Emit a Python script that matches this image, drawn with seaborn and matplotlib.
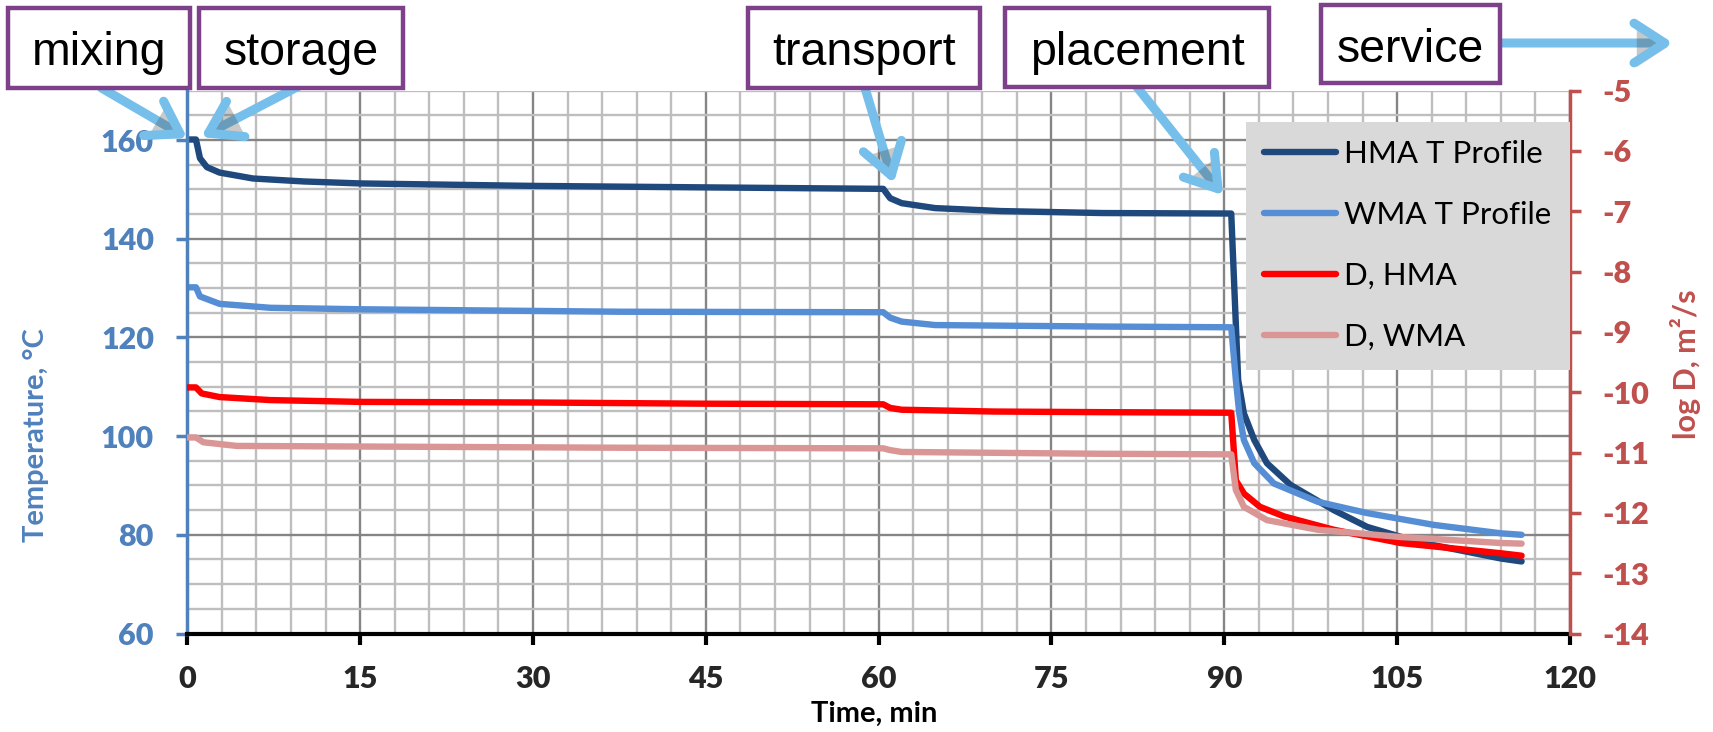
import numpy as np
import pandas as pd
import seaborn as sns
import matplotlib.pyplot as plt
import matplotlib.patheffects as pe
from matplotlib.patches import Rectangle

# temperature profiles, deg C
t_hma = [0, 0.75, 1.1, 1.7, 2.8, 5.7, 10.1, 15, 30, 45, 60.4, 61.0, 62, 64.9, 70.6, 79.4,
         90.6, 91.2, 91.7, 92.6, 93.7, 95.75, 99.5, 102.4, 105.3, 108.2, 114, 115.8]
temp_hma = [160.1, 160.1, 156.3, 154.5, 153.4, 152.2, 151.6, 151.2, 150.7, 150.4, 150.1, 148.2,
            147.2, 146.2, 145.6, 145.2, 145.1, 111.4, 104.6, 99.2, 94.5, 90.1, 85.0, 81.6,
            79.6, 77.9, 75.2, 74.6]

t_wma = [0, 0.75, 1.1, 2.8, 7.2, 15, 37.6, 60.4, 61.0, 62, 64.9, 79.4, 90.6, 91.0, 91.3,
         91.7, 92.6, 94.3, 98.1, 102.4, 108.2, 114, 115.8]
temp_wma = [130.15, 130.15, 128.3, 126.8, 126.0, 125.7, 125.2, 125.1, 124.0, 123.2, 122.5,
            122.2, 122.05, 111.4, 104.6, 99.2, 94.5, 90.4, 86.7, 84.4, 82.0, 80.3, 80.0]

# diffusion coefficients, log D (m2/s)
t_d_hma = [0, 0.75, 1.25, 2.8, 7.2, 15, 30, 45, 60.4, 61.0, 62, 70, 79, 90.6, 91.0, 91.7,
           93.1, 95.2, 99.5, 105.3, 114, 115.8]
logd_hma = [-9.92, -9.92, -10.02, -10.08, -10.13, -10.16, -10.17, -10.19, -10.20, -10.26,
            -10.29, -10.32, -10.33, -10.34, -11.46, -11.68, -11.90, -12.06, -12.28, -12.50,
            -12.67, -12.71]

t_d_wma = [0, 0.75, 1.4, 4.3, 15, 37.6, 60.4, 61.0, 62, 79, 90.6, 91.0, 91.7, 93.7, 98.1,
           105.3, 114, 115.8]
logd_wma = [-10.75, -10.75, -10.83, -10.89, -10.90, -10.92, -10.93, -10.96, -10.99, -11.02,
            -11.03, -11.62, -11.90, -12.12, -12.28, -12.40, -12.50, -12.51]

stages = ['mixing', 'storage', 'transport', 'placement', 'service']

sns.set_theme(style='white')
plt.rcParams['font.family'] = ['Lato', 'DejaVu Sans']
plt.rcParams['axes.unicode_minus'] = False

W, H = 1713, 732
fig = plt.figure(figsize=(W / 100, H / 100), dpi=100)
ax = fig.add_axes([187.3 / W, 98.5 / H, 1382.7 / W, 542.85 / H])
ax2 = ax.twinx()

blue_ax = '#4F81BD'
red_ax = '#C0504D'
lw = 4.6

sns.lineplot(x=t_hma, y=temp_hma, ax=ax, color='#1F497D', lw=lw, sort=False,
             estimator=None, label='HMA T Profile', legend=False)
sns.lineplot(x=t_wma, y=temp_wma, ax=ax, color='#558ED5', lw=lw, sort=False,
             estimator=None, label='WMA T Profile', legend=False)
sns.lineplot(x=t_d_hma, y=logd_hma, ax=ax2, color='#FF0000', lw=lw, sort=False,
             estimator=None, label='D, HMA', legend=False)
sns.lineplot(x=t_d_wma, y=logd_wma, ax=ax2, color='#D99694', lw=lw, sort=False,
             estimator=None, label='D, WMA', legend=False)
for a in (ax, ax2):
    for ln in a.lines:
        ln.set_solid_capstyle('round')
        ln.set_solid_joinstyle('round')

ax.set_xlim(0, 120)
ax.set_ylim(60, 170)
ax2.set_ylim(-14, -5)

ax.set_xticks(range(0, 121, 15))
ax.set_xticks(np.arange(0, 121, 3), minor=True)
ax.set_yticks(range(60, 161, 20))
ax.set_yticks(np.arange(60, 171, 5), minor=True)
ax2.set_yticks(range(-14, -4))

ax.set_axisbelow(True)
ax.grid(which='major', color='#858585', lw=1.7)
ax.grid(which='minor', color='#BEBEBE', lw=1.7)

for a in (ax, ax2):
    for s in a.spines.values():
        s.set_visible(False)
ax.spines['left'].set_visible(True)
ax.spines['left'].set_color(blue_ax)
ax.spines['left'].set_linewidth(2.5)
ax.spines['bottom'].set_visible(True)
ax.spines['bottom'].set_color('black')
ax.spines['bottom'].set_linewidth(3)
ax2.spines['right'].set_visible(True)
ax2.spines['right'].set_color(red_ax)
ax2.spines['right'].set_linewidth(2.5)

ax.tick_params(which='minor', length=0)
ax.tick_params(axis='x', which='major', direction='out', length=8, width=3, color='black',
               labelsize=22, pad=15, bottom=True)
ax.tick_params(axis='y', which='major', direction='out', length=8, width=2.5, color=blue_ax,
               labelcolor=blue_ax, labelsize=22, pad=16, left=True)
ax2.tick_params(axis='y', direction='out', length=8, width=2.5, color=red_ax,
                labelcolor=red_ax, labelsize=22, pad=15, right=True)
for lab in ax.get_xticklabels() + ax.get_yticklabels() + ax2.get_yticklabels():
    lab.set_fontweight('heavy')

ax.set_xlabel('Time, min', fontsize=21, fontweight='bold', color='black')
ax.xaxis.set_label_coords(0.497, -0.125)
ax.set_ylabel('Temperature, °C', fontsize=21, fontweight='bold', color=blue_ax)
ax.yaxis.set_label_coords(-0.100, 0.366)
ax2.set_ylabel('log D, m²/s', fontsize=22, fontweight='bold', color=red_ax)
ax2.yaxis.set_label_coords(1.072, 0.497)

h1, l1 = ax.get_legend_handles_labels()
h2, l2 = ax2.get_legend_handles_labels()
leg = ax2.legend(h1 + h2, l1 + l2, loc='upper right', bbox_to_anchor=(1.0, 0.943),
                 borderaxespad=0, frameon=True, fancybox=False, facecolor='#D9D9D9',
                 edgecolor='none', framealpha=1, fontsize=22.5, handlelength=2.3,
                 handletextpad=0.25, labelspacing=1.05, borderpad=0.6)
for txt in leg.get_texts():
    txt.set_color('black')

# stage boxes across the top (pixel positions from the top edge)
boxes = [(8, 190, 8, 88, 65), (199, 403, 8, 88, 65), (748, 980, 8, 88, 65),
         (1005, 1269, 8, 87, 65), (1321, 1500, 5, 83, 62)]
purple = '#7D418A'
for name, (x0, x1, y0, y1, base) in zip(stages, boxes):
    fig.add_artist(Rectangle((x0 / W, 1 - y1 / H), (x1 - x0) / W, (y1 - y0) / H,
                             transform=fig.transFigure, fc='white', ec=purple, lw=3.2))
    fig.text((x0 + x1) / 2 / W, 1 - base / H, name, ha='center', va='baseline',
             fontsize=33.5, family=['Liberation Sans', 'DejaVu Sans'], color='black')

arrow_col = '#76BFEA'
shadow = [pe.SimplePatchShadow(offset=(2, -3), alpha=0.3), pe.Normal()]
style = '->,head_length=0.85,head_width=0.55'
arrows = [((0.0, 160.4), (101.5, 88)), ((1.2, 160.6), (299, 86)),
          ((61.3, 151.2), (865, 88)), ((89.9, 148.8), (1136.7, 86.7))]
for tip, tail in arrows:
    an = ax.annotate('', xy=tip, xycoords='data', xytext=(tail[0], H - tail[1]),
                     textcoords='figure pixels', annotation_clip=False,
                     arrowprops=dict(arrowstyle=style, color=arrow_col, lw=6.5,
                                     shrinkA=0, shrinkB=0, mutation_scale=26,
                                     capstyle='round', joinstyle='round'))
    an.arrow_patch.set_path_effects(shadow)
an = ax.annotate('', xy=(1673, H - 43), xycoords='figure pixels', xytext=(1500, H - 43),
                 textcoords='figure pixels', annotation_clip=False,
                 arrowprops=dict(arrowstyle=style, color=arrow_col, lw=6.5,
                                 shrinkA=0, shrinkB=0, mutation_scale=26,
                                 capstyle='round', joinstyle='round'))
an.arrow_patch.set_path_effects(shadow)

fig.savefig('out.png', dpi=100)
